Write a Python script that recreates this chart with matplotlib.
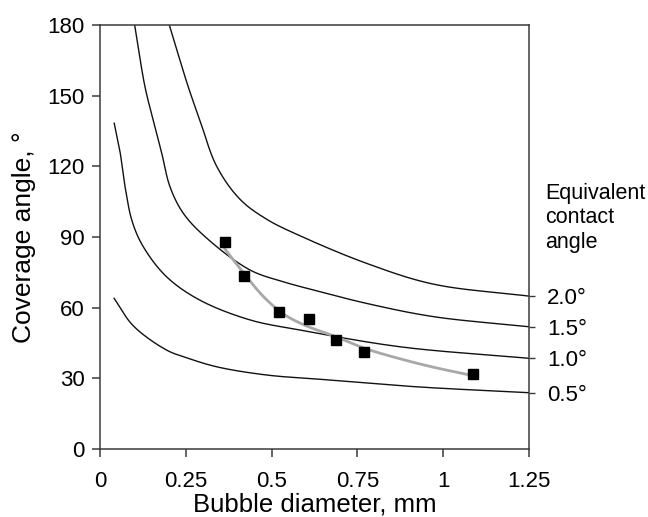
import matplotlib
matplotlib.use("Agg")
import matplotlib.pyplot as plt
import numpy as np

plt.rcParams['font.family'] = ['Liberation Sans', 'DejaVu Sans']

# Theoretical curves (equivalent contact angle)
d_20 = [0.202, 0.257, 0.291, 0.340, 0.408, 0.486, 0.583, 0.777, 0.971, 1.25]
t_20 = [180.0, 153.8, 139.6, 120.0, 106.0, 97.5, 90.5, 78.8, 70.0, 64.9]

d_15 = [0.101, 0.131, 0.155, 0.180, 0.204, 0.243, 0.311, 0.437, 0.534, 0.641, 0.777, 0.971, 1.25]
t_15 = [180.0, 153.8, 139.6, 125.5, 111.3, 100.0, 89.5, 76.0, 71.0, 66.8, 61.8, 56.2, 51.9]

d_10 = [0.041, 0.058, 0.073, 0.094, 0.126, 0.194, 0.291, 0.437, 0.583, 0.874, 1.25]
t_10 = [138.6, 126.5, 111.3, 96.5, 85.9, 73.1, 63.2, 54.8, 50.5, 43.4, 38.5]

d_05 = [0.040, 0.097, 0.194, 0.249, 0.340, 0.486, 0.641, 0.923, 1.25]
t_05 = [64.2, 52.3, 42.0, 38.9, 34.9, 31.4, 29.6, 26.4, 23.9]

curve_labels = ["2.0°", "1.5°", "1.0°", "0.5°"]

# Measured points
meas_d = [0.364, 0.421, 0.523, 0.608, 0.689, 0.769, 1.086]
meas_t = [88.0, 73.3, 58.3, 55.0, 46.4, 41.0, 31.7]

# Grey trend line
fit_d = [0.364, 0.4225, 0.481, 0.539, 0.607, 0.675, 0.772, 0.869, 0.966, 1.078]
fit_t = [84.9, 73.9, 64.0, 56.9, 51.9, 48.4, 42.7, 38.5, 34.9, 31.4]

x_ticks = [0, 0.25, 0.5, 0.75, 1, 1.25]
x_tick_labels = ["0", "0.25", "0.5", "0.75", "1", "1.25"]
y_ticks = [0, 30, 60, 90, 120, 150, 180]


def smooth_path(xs, ys, n=20):
    """Centripetal Catmull-Rom rendering through the read points (drawing only)."""
    p = np.column_stack([np.asarray(xs) / 1.25, np.asarray(ys) / 180.0])
    p = np.vstack([2 * p[0] - p[1], p, 2 * p[-1] - p[-2]])
    out = []
    for i in range(1, len(p) - 2):
        p0, p1, p2, p3 = p[i - 1], p[i], p[i + 1], p[i + 2]
        t0 = 0.0
        t1 = t0 + np.linalg.norm(p1 - p0) ** 0.5
        t2 = t1 + np.linalg.norm(p2 - p1) ** 0.5
        t3 = t2 + np.linalg.norm(p3 - p2) ** 0.5
        t = np.linspace(t1, t2, n)[:, None]
        a1 = (t1 - t) / (t1 - t0) * p0 + (t - t0) / (t1 - t0) * p1
        a2 = (t2 - t) / (t2 - t1) * p1 + (t - t1) / (t2 - t1) * p2
        a3 = (t3 - t) / (t3 - t2) * p2 + (t - t2) / (t3 - t2) * p3
        b1 = (t2 - t) / (t2 - t0) * a1 + (t - t0) / (t2 - t0) * a2
        b2 = (t3 - t) / (t3 - t1) * a2 + (t - t1) / (t3 - t1) * a3
        c = (t2 - t) / (t2 - t1) * b1 + (t - t1) / (t2 - t1) * b2
        out.append(c if i == 1 else c[1:])
    c = np.vstack(out)
    return c[:, 0] * 1.25, c[:, 1] * 180.0


fig = plt.figure(figsize=(6.48, 5.17), dpi=100)
ax = fig.add_axes([100/648, 1-449/517, 429/648, 424/517])

spine_c = '#3a3a3a'
for d, t in [(d_20, t_20), (d_15, t_15), (d_10, t_10), (d_05, t_05)]:
    sx, sy = smooth_path(d, t)
    ax.plot(sx, sy, color='#111111', lw=1.0, solid_capstyle='butt')

fx, fy = smooth_path(fit_d, fit_t)
ax.plot(fx, fy, color='#a8a8a8', lw=2.0, zorder=3)
ax.plot(meas_d, meas_t, ls='none', marker='s', ms=6.5, color='black', zorder=4)

ax.set_xlim(0, 1.25)
ax.set_ylim(0, 180)
ax.set_xticks(x_ticks)
ax.set_xticklabels(x_tick_labels)
ax.set_yticks(y_ticks)
for s in ax.spines.values():
    s.set_color(spine_c)
    s.set_linewidth(1.1)
ax.tick_params(axis='x', direction='out', length=5.5, width=1.1, color=spine_c,
               labelsize=16, pad=10)
ax.tick_params(axis='y', direction='out', length=6, width=1.1, color=spine_c,
               labelsize=16, pad=5)

ax.set_xlabel("Bubble diameter, mm", fontsize=18.5, labelpad=1)
ax.set_ylabel("Coverage angle, °", fontsize=19, labelpad=8)

# right-hand labels at curve ends
ax2 = ax.twinx()
ax2.set_ylim(0, 180)
ax2.set_yticks([t_20[-1], t_15[-1], t_10[-1], t_05[-1]])
ax2.set_yticklabels(curve_labels)
ax2.tick_params(axis='y', direction='out', length=4, width=1.0, color=spine_c,
                labelsize=16, pad=9)
for s in ax2.spines.values():
    s.set_visible(False)

ax.text(1.037, 0.545, "Equivalent\ncontact\nangle", transform=ax.transAxes,
        fontsize=15.5, ha='left', va='center', linespacing=1.2)

fig.savefig("out.png", dpi=100)
